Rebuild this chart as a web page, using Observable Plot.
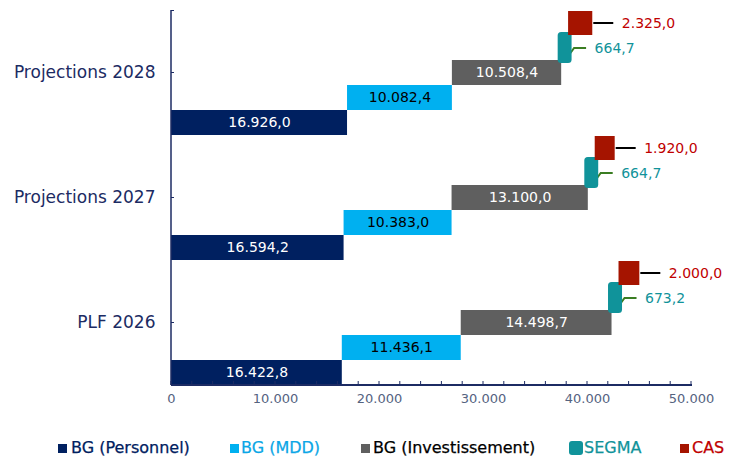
<!DOCTYPE html>
<html><head><meta charset="utf-8">
<script src="https://cdn.jsdelivr.net/npm/d3@7"></script>
<script src="https://cdn.jsdelivr.net/npm/@observablehq/plot@0.6"></script>
<style>
body{margin:0;background:#fff;}
#wrap{position:relative;width:742px;height:460px;font-family:"DejaVu Sans",sans-serif;overflow:hidden;}
#legend{position:absolute;left:0;top:438px;width:742px;height:20px;}
.li{position:absolute;top:0;height:20px;line-height:20px;font-size:16px;white-space:nowrap;-webkit-text-stroke:0.25px currentColor;}
.sw{position:absolute;display:block;}
</style></head><body><div id="wrap"><div id="chart"></div><div id="legend"></div></div>
<script>
// ---- data ----
const categories = ["Projections 2028", "Projections 2027", "PLF 2026"];
const seriesNames = ["BG (Personnel)", "BG (MDD)", "BG (Investissement)", "SEGMA", "CAS"];
const personnel = [16926.0, 16594.2, 16422.8];
const mdd = [10082.4, 10383.0, 11436.1];
const investissement = [10508.4, 13100.0, 14498.7];
const segma = [664.7, 664.7, 673.2];
const cas = [2325.0, 1920.0, 2000.0];
const xTickValues = [0, 10000, 20000, 30000, 40000, 50000];

// ---- styles ----
const colors = ["#002060", "#00b0f0", "#5f5f5f", "#10939a", "#a51400"];
const labelColors = ["#ffffff", "#000000", "#ffffff", "#11939a", "#c00000"];
const insets = [[100, 0], [75, 25], [50, 50], [22, 72], [1, 100]];

const seriesValues = [personnel, mdd, investissement, segma, cas];
const rows = [];
categories.forEach((cat, i) => {
  let acc = 0;
  seriesNames.forEach((s, k) => {
    const v = seriesValues[k][i];
    rows.push({cat, series: s, k, value: v, x1: acc, x2: acc + v});
    acc += v;
  });
});

const loc = d3.formatLocale({decimal: ",", thousands: ".", grouping: [3], currency: ["", "€"]});
const fmt1 = loc.format(",.1f");
const fmt0 = loc.format(",.0f");

const bars = seriesNames.map((s, k) => Plot.barX(rows.filter(d => d.k === k), {
  y: "cat", x1: "x1", x2: "x2", fill: colors[k],
  insetTop: insets[k][0], insetBottom: insets[k][1],
  ...(k === 3 ? {insetLeft: -3.5, insetRight: -3.5, rx: 3.5} : {})
}));

const inner = [0, 1, 2].map(k => Plot.text(rows.filter(d => d.k === k), {
  y: "cat", x: d => (d.x1 + d.x2) / 2, text: d => fmt1(d.value),
  fill: labelColors[k], fontSize: 14, dy: [50, 25, 0][k]
}));

const outerSegma = Plot.text(rows.filter(d => d.k === 3), {
  y: "cat", x: "x2", text: d => fmt1(d.value), fill: labelColors[3],
  fontSize: 14, textAnchor: "start", dx: 26, dy: -24.5
});
const outerCas = Plot.text(rows.filter(d => d.k === 4), {
  y: "cat", x: "x2", text: d => fmt1(d.value), fill: labelColors[4],
  fontSize: 14, textAnchor: "start", dx: 29, dy: -49.5
});

function decor(index, scales, values, dim) {
  const {x, y} = scales;
  const g = d3.create("svg:g");
  const bottom = dim.height - dim.marginBottom;
  const top = dim.marginTop;
  const left = dim.marginLeft, right = dim.width - dim.marginRight;
  const navy = "#1c2b63";
  for (const t of x.ticks(25)) {
    g.append("line").attr("x1", x(t)).attr("x2", x(t)).attr("y1", bottom).attr("y2", bottom - 4)
      .attr("stroke", navy).attr("stroke-width", 1);
  }
  g.append("line").attr("x1", left).attr("x2", right + 1).attr("y1", bottom).attr("y2", bottom)
    .attr("stroke", navy).attr("stroke-width", 2);
  g.append("line").attr("x1", left).attr("x2", left).attr("y1", top).attr("y2", bottom)
    .attr("stroke", navy).attr("stroke-width", 1.5);
  const bw = y.bandwidth();
  for (const c of y.domain()) {
    const yc = y(c) + bw / 2;
    g.append("line").attr("x1", left).attr("x2", left + 3).attr("y1", yc).attr("y2", yc)
      .attr("stroke", navy).attr("stroke-width", 1);
  }
  g.append("line").attr("x1", left).attr("x2", left + 3).attr("y1", top + 0.5).attr("y2", top + 0.5)
    .attr("stroke", navy).attr("stroke-width", 1);
  return g.node();
}

function leaders(index, scales, values, dim) {
  const {x, y} = scales;
  const g = d3.create("svg:g").attr("fill", "none");
  for (const c of categories) {
    const top = y(c);
    const s = rows.find(d => d.cat === c && d.k === 3);
    const k = rows.find(d => d.cat === c && d.k === 4);
    const es = x(s.x2), ec = x(k.x2);
    g.append("path").attr("d", `M${es - 2},${top + 49}L${es + 6},${top + 38}L${es + 18},${top + 38}`)
      .attr("stroke", "#3a7d22").attr("stroke-width", 2);
    g.append("path").attr("d", `M${ec + 1},${top + 13}L${ec + 21},${top + 13}`)
      .attr("stroke", "#000").attr("stroke-width", 2);
  }
  return g.node();
}

const chart = Plot.plot({
  width: 742, height: 420,
  marginLeft: 171, marginRight: 51, marginTop: 10, marginBottom: 35,
  style: {fontFamily: "DejaVu Sans, sans-serif", background: "#fff", overflow: "visible"},
  x: {domain: [0, 50000]},
  y: {type: "band", domain: categories, padding: 0},
  marks: [
    ...bars.slice(0, 3),
    leaders,
    bars[3], bars[4],
    ...inner, outerSegma, outerCas,
    decor,
    Plot.axisX({ticks: xTickValues, tickSize: 0, tickPadding: 8, tickFormat: fmt0,
      fill: "#55637f", fontSize: 13, label: null}),
    Plot.axisY({tickSize: 0, tickPadding: 16, fill: "#1c2b63", fontSize: 17, label: null})
  ]
});
document.getElementById("chart").appendChild(chart);

// ---- legend ----
const legendItems = [
  {k: 0, left: 58, text: "#002060", tleft: 71},
  {k: 1, left: 230, text: "#0aa6e6", tleft: 241},
  {k: 2, left: 361, text: "#000000", tleft: 373},
  {k: 3, left: 569, text: "#11939a", tleft: 584},
  {k: 4, left: 680, text: "#c00000", tleft: 692}
];
const legend = d3.select("#legend");
for (const it of legendItems) {
  const big = it.k === 3;
  legend.append("span").attr("class", "sw")
    .style("left", it.left + "px")
    .style("top", big ? "3px" : "6px")
    .style("width", big ? "14px" : "9px").style("height", big ? "14px" : "9px")
    .style("border-radius", big ? "3px" : "0")
    .style("background", colors[it.k]);
  legend.append("span").attr("class", "li").style("left", it.tleft + "px")
    .style("color", it.text).text(seriesNames[it.k]);
}
</script></body></html>
